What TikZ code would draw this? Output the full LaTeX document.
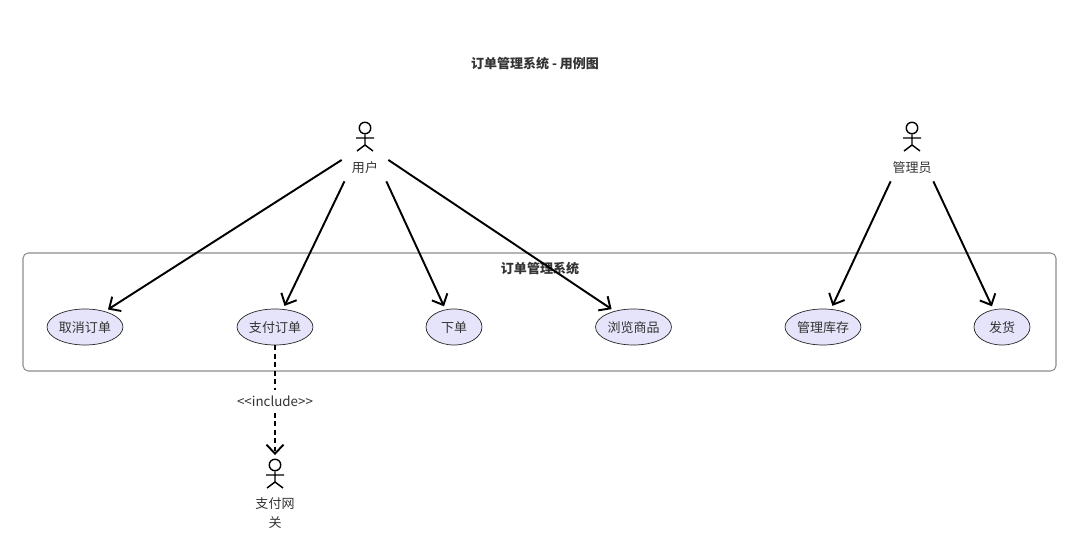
\documentclass[tikz,border=0pt]{standalone}
\usepackage{fontspec}
\setmainfont{Noto Sans CJK SC}
\usetikzlibrary{shapes.geometric, arrows.meta, positioning}
\definecolor{casefill}{HTML}{E6E4FA}

\begin{document}
\begin{tikzpicture}[x=0.02cm, y=-0.02cm, font=\fontsize{7.4pt}{10.8pt}\selectfont, align=center, text=black!80,
    usecase/.style={draw=black!85, fill=casefill, ellipse, inner sep=0pt, minimum height=0.72cm, text height=2.4mm, text depth=0.3mm},
    actorname/.style={inner sep=0pt, minimum width=0.92cm, minimum height=0.52cm},
    arrow/.style={-{Straight Barb[length=1.8mm, width=3.4mm]}, line width=1.1pt, shorten >=2pt},
    dasharrow/.style={arrow, dash pattern=on 2.8pt off 2pt},
    actor/.pic={
        \node[circle, draw, line width=0.8pt, inner sep=0pt, minimum size=0.23cm] (-head) at (0,-8) {};
        \draw[line width=0.8pt] (-head) -- (0,9) (-9,2) -- (9,2) (-8,15) -- (0,9) -- (8,15);
    }
]
    \useasboundingbox (0,0) rectangle (1080,554);
    \node[font=\fontsize{7.4pt}{9.6pt}\selectfont\bfseries] (title) at (535,64) {订单管理系统 - 用例图};

    \draw[black!45, rounded corners=3pt, line width=0.6pt] (23,253) rectangle (1056,371);
    \node[font=\fontsize{7.4pt}{9.6pt}\selectfont\bfseries] (system) at (540,269) {订单管理系统};

    \node[usecase, minimum width=1.52cm] (cancel) at (85,327) {取消订单};
    \node[usecase, minimum width=1.52cm] (pay) at (275,327) {支付订单};
    \node[usecase, minimum width=1.12cm] (order) at (454,327) {下单};
    \node[usecase, minimum width=1.52cm] (browse) at (633.5,327) {浏览商品};
    \node[usecase, minimum width=1.52cm] (stock) at (823,327) {管理库存};
    \node[usecase, minimum width=1.12cm] (ship) at (1002,327) {发货};

    \pic (userfig) at (365,136) {actor};
    \node[actorname] (user) at (365,168) {用户};
    \pic (adminfig) at (912,136) {actor};
    \node[actorname] (admin) at (912,168) {管理员};
    \pic (gatewayfig) at (275,473) {actor};
    \node[inner sep=0pt] (gateway) at (275,513) {支付网\\关};

    \draw[arrow] (user.161) -- (cancel.38);
    \draw[arrow] (user.213) -- (pay.66);
    \draw[arrow] (user.328) -- (order.116);
    \draw[arrow] (user.19) -- (browse.140);
    \draw[arrow] (admin.212) -- (stock.66);
    \draw[arrow] (admin.328) -- (ship.116);

    \draw[dasharrow] (pay) -- (gatewayfig-head);
    \node[fill=white, inner sep=0pt, minimum height=0.46cm, font=\fontsize{7.6pt}{9.6pt}\selectfont] (include) at (275,401) {{<}{<}include{>}{>}};
\end{tikzpicture}
\end{document}
